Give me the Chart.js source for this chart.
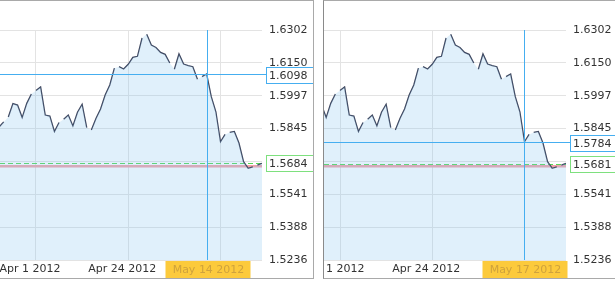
<!DOCTYPE html>
<html>
<head>
<meta charset="utf-8">
<script src="https://cdn.jsdelivr.net/npm/chart.js@4.4.0/dist/chart.umd.min.js"></script>
<style>
  html, body { margin: 0; padding: 0; background: #fff; overflow: hidden; width: 615px; height: 284px; }
  .panel { position: absolute; top: 0; height: 279px; box-sizing: border-box; border: 1px solid #a9a9a9; overflow: hidden; }
  #p1 { left: -1px; width: 315px; }
  #p2 { left: 323px; width: 310px; border-left-color: #8a8a8a; }
  canvas { display: block; }
</style>
</head>
<body>
<div class="panel" id="p1"><canvas id="c1" width="313" height="277"></canvas></div>
<div class="panel" id="p2"><canvas id="c2" width="308" height="277"></canvas></div>
<script>
// daily closes (Sun-Fri sessions, no Saturday)
const dates = [
  '2012-03-22', '2012-03-23',
  '2012-03-25', '2012-03-26', '2012-03-27', '2012-03-28', '2012-03-29', '2012-03-30',
  '2012-04-01', '2012-04-02', '2012-04-03', '2012-04-04', '2012-04-05', '2012-04-06',
  '2012-04-08', '2012-04-09', '2012-04-10', '2012-04-11', '2012-04-12', '2012-04-13',
  '2012-04-15', '2012-04-16', '2012-04-17', '2012-04-18', '2012-04-19', '2012-04-20',
  '2012-04-22', '2012-04-23', '2012-04-24', '2012-04-25', '2012-04-26', '2012-04-27',
  '2012-04-29', '2012-04-30', '2012-05-01', '2012-05-02', '2012-05-03', '2012-05-04',
  '2012-05-06', '2012-05-07', '2012-05-08', '2012-05-09', '2012-05-10', '2012-05-11',
  '2012-05-13', '2012-05-14', '2012-05-15', '2012-05-16', '2012-05-17', '2012-05-18',
  '2012-05-20', '2012-05-21', '2012-05-22', '2012-05-23', '2012-05-24', '2012-05-25',
  '2012-05-27', '2012-05-28'
];
const closes = [
  1.5852, 1.5876,
  1.5899, 1.5961, 1.5954, 1.5896, 1.5962, 1.6005,
  1.6022, 1.6038, 1.5908, 1.5903, 1.5831, 1.5873,
  1.5888, 1.5908, 1.5857, 1.5921, 1.5958, 1.5850,
  1.5839, 1.5892, 1.5936, 1.6001, 1.6047, 1.6125,
  1.6132, 1.6121, 1.6143, 1.6175, 1.6180, 1.6265,
  1.6282, 1.6232, 1.6221, 1.6198, 1.6189, 1.6149,
  1.6120, 1.6191, 1.6144, 1.6137, 1.6132, 1.6074,
  1.6086, 1.6098, 1.5993, 1.5923, 1.5784, 1.5818,
  1.5827, 1.5832, 1.5778, 1.5692, 1.5661, 1.5668,
  1.5676, 1.5684
];
const yTicks = [1.5236, 1.5388, 1.5541, 1.5693, 1.5845, 1.5997, 1.6150, 1.6302];
const xTickDates = ['2012-04-01', '2012-04-24', '2012-05-17'];
const crossDates = ['2012-05-14', '2012-05-17'];
const lastPrices = [1.5684, 1.5681];
const refLevel = 1.5671;

const months = ['Jan','Feb','Mar','Apr','May','Jun','Jul','Aug','Sep','Oct','Nov','Dec'];
function fmtDate(s) {
  const p = s.split('-');
  return months[+p[1] - 1] + ' ' + (+p[2]) + ' ' + p[0];
}
function dayNum(s) {
  const p = s.split('-');
  return Date.UTC(+p[0], +p[1] - 1, +p[2]) / 86400000;
}
// no line across the weekend
function gapAfter(i) {
  return i + 1 < dates.length && dayNum(dates[i + 1]) - dayNum(dates[i]) > 1;
}

Chart.defaults.font.family = 'DejaVu Sans';
Chart.defaults.font.size = 11;
Chart.defaults.color = '#333';

function hline(ctx, x1, x2, y) {
  ctx.beginPath(); ctx.moveTo(x1, y); ctx.lineTo(x2, y); ctx.stroke();
}

function valueBox(ctx, x, yc, color, text) {
  const y = Math.round(yc) - 8 + 0.5;
  ctx.fillStyle = '#fff';
  ctx.fillRect(x, y, 80, 16);
  ctx.strokeStyle = color;
  ctx.lineWidth = 1;
  ctx.strokeRect(x, y, 80, 16);
  ctx.fillStyle = '#333';
  ctx.textAlign = 'left';
  ctx.textBaseline = 'middle';
  ctx.fillText(text, x + 2.5, y + 8.5);
}

const overlay = {
  id: 'overlay',
  beforeDatasetsDraw(chart, args, o) {
    const { ctx, chartArea: a } = chart;
    const y = chart.scales.y;
    ctx.save();
    ctx.strokeStyle = '#f2a2a8';
    ctx.lineWidth = 2.5;
    hline(ctx, a.left, a.right, y.getPixelForValue(refLevel));
    ctx.strokeStyle = '#55d855';
    ctx.lineWidth = 1;
    ctx.setLineDash([5, 3]);
    hline(ctx, a.left, a.right, Math.round(y.getPixelForValue(o.last)) + 0.5);
    ctx.restore();
  },
  afterDraw(chart, args, o) {
    const { ctx, chartArea: a } = chart;
    const xs = chart.scales.x, ys = chart.scales.y;
    const idx = dates.indexOf(o.cross);
    const cx = Math.round(xs.getPixelForValue(idx)) + 0.5;
    const cy = Math.round(ys.getPixelForValue(closes[idx])) + 0.5;
    ctx.save();
    ctx.font = '11px "DejaVu Sans"';
    ctx.strokeStyle = '#45aef0';
    ctx.lineWidth = 1;
    ctx.beginPath(); ctx.moveTo(cx, a.top); ctx.lineTo(cx, a.bottom); ctx.stroke();
    hline(ctx, a.left, a.right + 5, cy);
    valueBox(ctx, a.right + 4.5, cy, '#45aef0', closes[idx].toFixed(4));
    valueBox(ctx, a.right + 4.5, ys.getPixelForValue(o.last), '#7ee07e', o.last.toFixed(4));
    // date tag under the crosshair
    ctx.fillStyle = '#fcca3c';
    ctx.fillRect(cx - 42, a.bottom + 1, 85, chart.height - a.bottom);
    ctx.fillStyle = '#cfa23c';
    ctx.textAlign = 'center';
    ctx.textBaseline = 'middle';
    ctx.fillText(fmtDate(o.cross), cx + 1, a.bottom + 10);
    ctx.restore();
  }
};

function makeChart(id, xMin, axisW, cross, last) {
  const points = closes.map((v, i) => ({ x: i, y: v }));
  return new Chart(document.getElementById(id), {
    type: 'line',
    data: {
      datasets: [{
        // area under the price
        data: points,
        borderWidth: 0,
        borderColor: 'rgba(0,0,0,0)',
        backgroundColor: 'rgba(130, 195, 240, 0.25)',
        fill: 'start',
        pointRadius: 0,
        tension: 0
      }, {
        // price line, broken over weekends
        data: points,
        borderColor: '#3b4158',
        borderWidth: 1.3,
        fill: false,
        pointRadius: 0,
        tension: 0,
        segment: {
          borderColor: c => gapAfter(c.p0DataIndex) ? 'rgba(0,0,0,0)' : undefined
        }
      }]
    },
    options: {
      responsive: false,
      animation: false,
      layout: { padding: { top: 29, left: 0, right: 0, bottom: 0 } },
      plugins: {
        legend: { display: false },
        tooltip: { enabled: false },
        overlay: { cross: cross, last: last }
      },
      scales: {
        x: {
          type: 'linear',
          min: xMin,
          max: closes.length - 1,
          afterBuildTicks: s => { s.ticks = xTickDates.map(d => ({ value: dates.indexOf(d) })); },
          afterFit: s => { s.height = 18; s.paddingLeft = 0; s.paddingRight = 0; },
          grid: { color: '#e3e3e3', drawTicks: false },
          border: { display: false },
          ticks: {
            autoSkip: false,
            maxRotation: 0,
            padding: 3,
            labelOffset: -6,
            callback: v => fmtDate(dates[v])
          }
        },
        y: {
          position: 'right',
          min: yTicks[0],
          max: yTicks[yTicks.length - 1],
          afterBuildTicks: s => { s.ticks = yTicks.map(v => ({ value: v })); },
          afterFit: s => { s.width = axisW; s.paddingTop = 0; s.paddingBottom = 0; },
          grid: { color: '#e3e3e3', drawTicks: false },
          border: { display: false },
          ticks: {
            padding: 7,
            callback: v => v.toFixed(4)
          }
        }
      }
    },
    plugins: [overlay]
  });
}

makeChart('c1', 0.195, 51, crossDates[0], lastPrices[0]);
makeChart('c2', 4.53, 66, crossDates[1], lastPrices[1]);
</script>
</body>
</html>
